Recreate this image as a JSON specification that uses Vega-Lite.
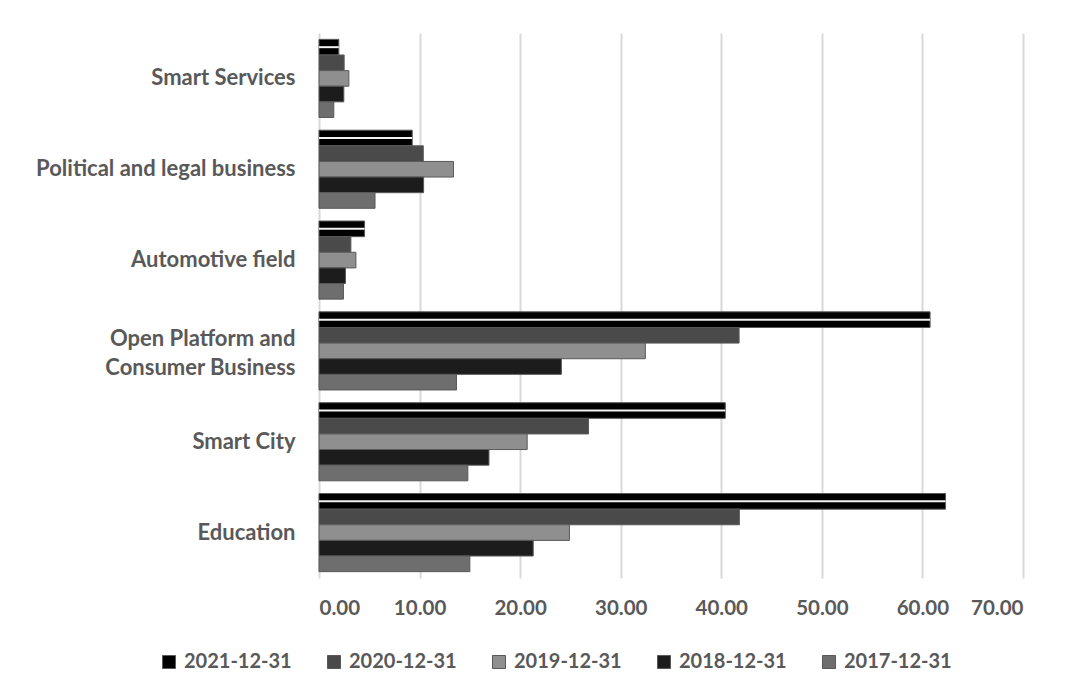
{
  "$schema": "https://vega.github.io/schema/vega-lite/v6.json",
  "autosize": {"type": "none"},
  "padding": {"left": 319, "top": 33, "right": 50, "bottom": 119},
  "width": 704,
  "height": 545,
  "background": "white",
  "config": {
    "font": "Lato",
    "view": {"stroke": null},
    "axis": {"labelFont": "Lato", "labelFontWeight": "bold", "labelColor": "#595959"},
    "legend": {"labelFont": "Lato", "labelFontWeight": "bold", "labelColor": "#595959"}
  },
  "data": {
    "values": [
      {"category": "Smart Services", "year": "2021-12-31", "value": 1.97},
      {"category": "Smart Services", "year": "2020-12-31", "value": 2.5},
      {"category": "Smart Services", "year": "2019-12-31", "value": 2.97},
      {"category": "Smart Services", "year": "2018-12-31", "value": 2.47},
      {"category": "Smart Services", "year": "2017-12-31", "value": 1.47},
      {"category": "Political and legal business", "year": "2021-12-31", "value": 9.27},
      {"category": "Political and legal business", "year": "2020-12-31", "value": 10.37},
      {"category": "Political and legal business", "year": "2019-12-31", "value": 13.37},
      {"category": "Political and legal business", "year": "2018-12-31", "value": 10.4},
      {"category": "Political and legal business", "year": "2017-12-31", "value": 5.57},
      {"category": "Automotive field", "year": "2021-12-31", "value": 4.53},
      {"category": "Automotive field", "year": "2020-12-31", "value": 3.17},
      {"category": "Automotive field", "year": "2019-12-31", "value": 3.67},
      {"category": "Automotive field", "year": "2018-12-31", "value": 2.63},
      {"category": "Automotive field", "year": "2017-12-31", "value": 2.43},
      {"category": "Open Platform and Consumer Business", "year": "2021-12-31", "value": 60.76},
      {"category": "Open Platform and Consumer Business", "year": "2020-12-31", "value": 41.77},
      {"category": "Open Platform and Consumer Business", "year": "2019-12-31", "value": 32.45},
      {"category": "Open Platform and Consumer Business", "year": "2018-12-31", "value": 24.1},
      {"category": "Open Platform and Consumer Business", "year": "2017-12-31", "value": 13.67},
      {"category": "Smart City", "year": "2021-12-31", "value": 40.4},
      {"category": "Smart City", "year": "2020-12-31", "value": 26.8},
      {"category": "Smart City", "year": "2019-12-31", "value": 20.7},
      {"category": "Smart City", "year": "2018-12-31", "value": 16.9},
      {"category": "Smart City", "year": "2017-12-31", "value": 14.8},
      {"category": "Education", "year": "2021-12-31", "value": 62.3},
      {"category": "Education", "year": "2020-12-31", "value": 41.8},
      {"category": "Education", "year": "2019-12-31", "value": 24.9},
      {"category": "Education", "year": "2018-12-31", "value": 21.3},
      {"category": "Education", "year": "2017-12-31", "value": 15.0}
    ]
  },
  "encoding": {
    "y": {
      "field": "category",
      "type": "nominal",
      "sort": ["Smart Services", "Political and legal business", "Automotive field", "Open Platform and Consumer Business", "Smart City", "Education"],
      "scale": {"paddingInner": 0.14, "paddingOuter": 0.07},
      "axis": {
        "title": null,
        "domain": false,
        "ticks": false,
        "labelPadding": 24,
        "labelFontSize": 22,
        "labelLineHeight": 29,
        "labelLimit": 400,
        "labelOffset": {"condition": {"test": "datum.label == 'Open Platform and Consumer Business'", "value": -12}, "value": 0},
        "labelExpr": "datum.label == 'Open Platform and Consumer Business' ? ['Open Platform and', 'Consumer Business'] : datum.label"
      }
    },
    "yOffset": {
      "field": "year",
      "type": "nominal",
      "scale": {"domain": ["2021-12-31", "2020-12-31", "2019-12-31", "2018-12-31", "2017-12-31"], "paddingInner": 0, "paddingOuter": 0}
    },
    "x": {
      "field": "value",
      "type": "quantitative",
      "scale": {"domain": [0, 70], "nice": false},
      "axis": {
        "title": null,
        "values": [0, 10, 20, 30, 40, 50, 60, 70],
        "format": ".2f",
        "domain": false,
        "ticks": false,
        "labelPadding": 20,
        "labelFontSize": 20.5,
        "grid": true,
        "gridColor": "#d9d9d9",
        "gridWidth": 2
      }
    }
  },
  "layer": [
    {
      "mark": {"type": "bar", "stroke": "#595959", "strokeWidth": 1},
      "encoding": {
        "fill": {
          "field": "year",
          "type": "nominal",
          "scale": {
            "domain": ["2021-12-31", "2020-12-31", "2019-12-31", "2018-12-31", "2017-12-31"],
            "range": ["#000000", "#4a4a4a", "#8f8f8f", "#1c1c1c", "#6e6e6e"]
          },
          "legend": {
            "title": null,
            "orient": "none",
            "legendX": -160,
            "legendY": 619,
            "direction": "horizontal",
            "columns": 5,
            "symbolType": "square",
            "symbolSize": 169,
            "symbolStrokeColor": "#595959",
            "symbolStrokeWidth": 1,
            "labelFontSize": 20,
            "labelOffset": 5,
            "columnPadding": 32
          }
        }
      }
    },
    {
      "transform": [{"filter": "datum.year == '2021-12-31'"}],
      "mark": {"type": "bar", "size": 2, "fill": "#f2f2f2"},
      "encoding": {}
    }
  ]
}
